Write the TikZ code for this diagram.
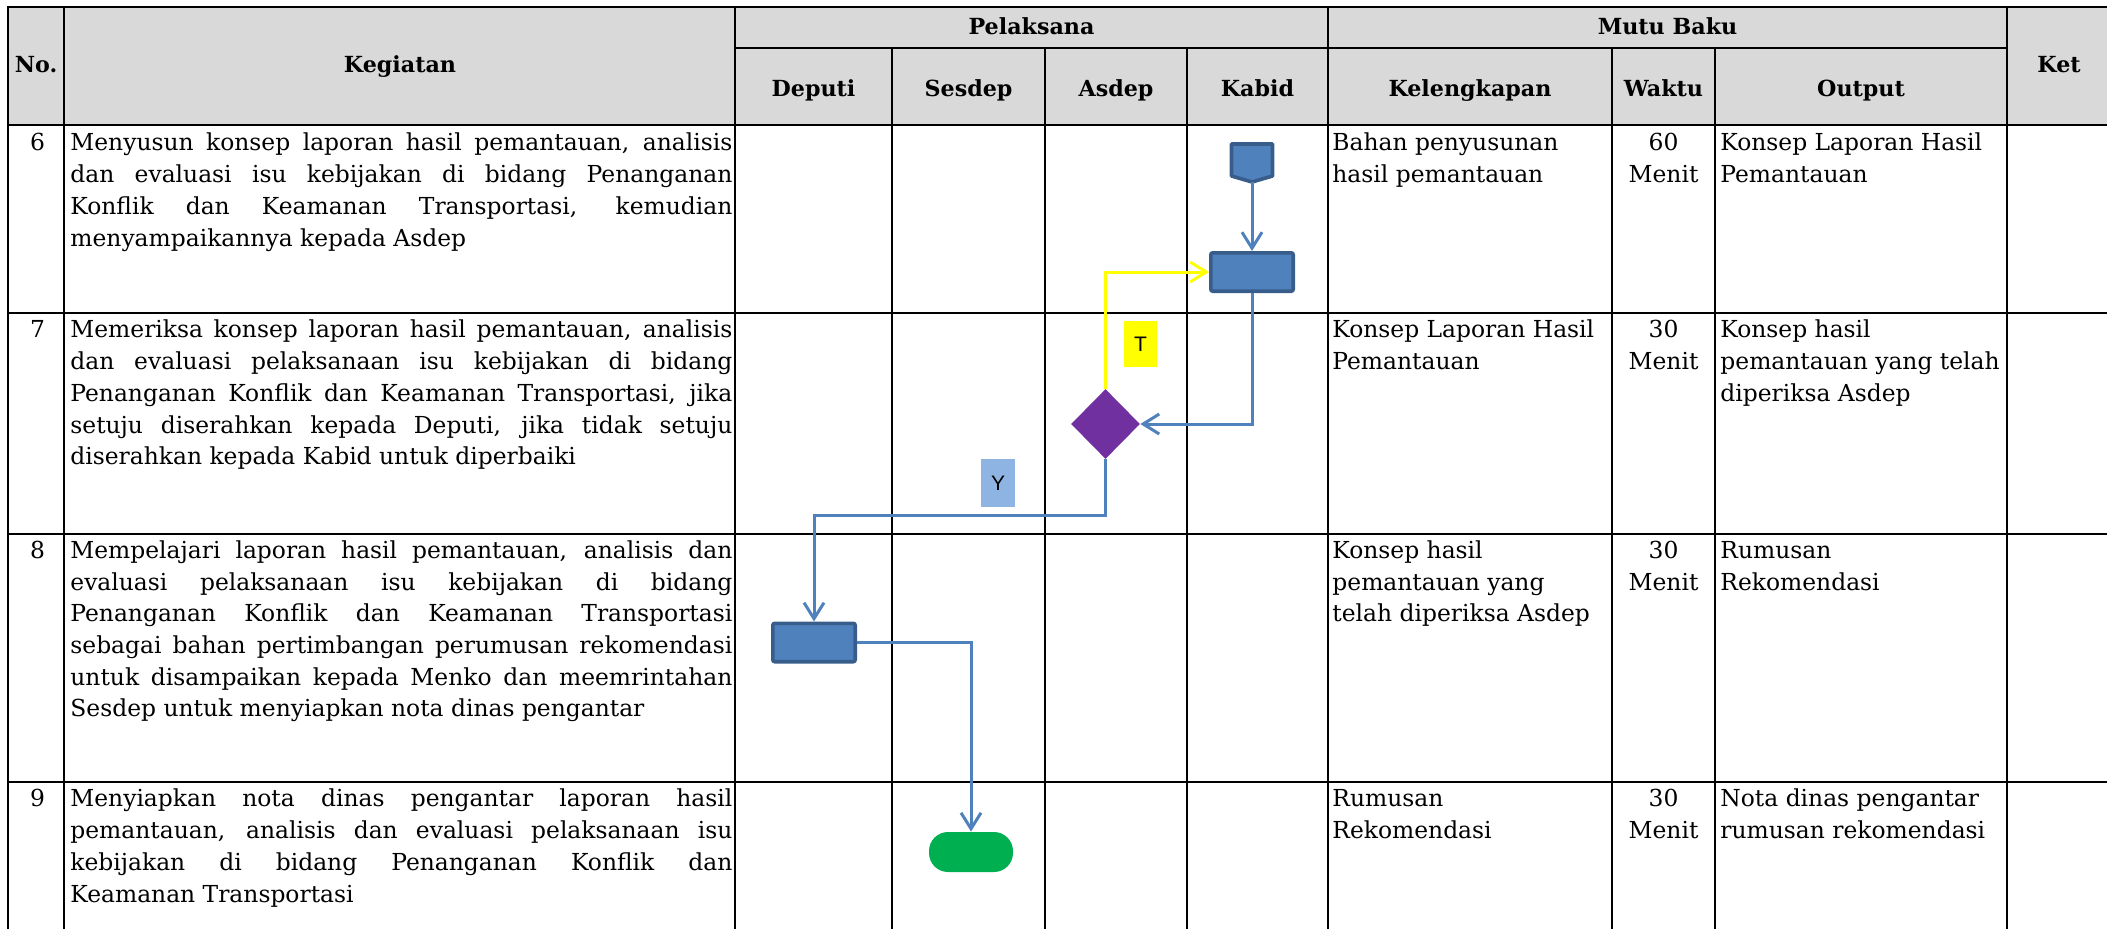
\documentclass[tikz,border=0pt]{standalone}
\usepackage{fontspec}
\setmainfont{DejaVu Serif}
\newfontfamily\lsans{Liberation Sans}
\usetikzlibrary{arrows.meta,shapes.geometric}
\definecolor{hdr}{HTML}{D9D9D9}
\definecolor{fblue}{HTML}{4F81BD}
\definecolor{dblue}{HTML}{385D8A}
\definecolor{lblue}{HTML}{8EB4E3}
\definecolor{purp}{HTML}{7030A0}
\definecolor{grn}{HTML}{00B050}
\definecolor{yel}{HTML}{FFFF00}
\newlength\kgw
\setlength\kgw{331pt}
\newcommand\jl[1]{\strut\makebox[\kgw][s]{#1}}
\newcommand\bodyfont{\fontsize{11.7}{15.85}\selectfont}
\begin{document}
\begin{tikzpicture}[x=0.5pt,y=-0.5pt,
  hline/.style={line width=1.2pt, line cap=rect},
  vline/.style={line width=1pt, line cap=rect},
  bodytxt/.style={inner sep=0pt, align=left, font=\bodyfont},
  hd/.style={inner sep=0pt, anchor=base, font=\bfseries\fontsize{11.1}{13}\selectfont},
  proc/.style={rectangle, draw=dblue, fill=fblue, line width=1.8pt, rounded corners=1pt, minimum width=41.2pt, minimum height=19.2pt, inner sep=0pt},
  offp/.style={draw=dblue, fill=fblue, line width=1.8pt, line join=round},
  flow/.style={draw=fblue, line width=1.5pt, -{Straight Barb[length=8pt,width=10pt]}},
  lbl/.style={inner sep=0pt, font=\lsans\fontsize{10.5}{12}\selectfont}
]
\useasboundingbox (0,0) rectangle (2107,928);
% header background
\fill[hdr] (8,7) rectangle (2112,125);
% grid
\foreach \xx in {8,64,735,1328,2007} \draw[vline] (\xx,7) -- (\xx,935);
\foreach \xx in {892,1045,1187,1612,1715} \draw[vline] (\xx,48) -- (\xx,935);
\foreach \yy in {7,125,313,534,782} \draw[hline] (8,\yy) -- (2112,\yy);
\draw[hline] (735,48) -- (2007,48);
% headers
\node[hd] (hno) at (36,72) {No.};
\node[hd] (hkg) at (400,72) {Kegiatan};
\node[hd] (hpl) at (1031.5,34) {Pelaksana};
\node[hd] (hmb) at (1667.5,34) {Mutu Baku};
\node[hd] (hket) at (2059,72) {Ket};
\node[hd] (hdep) at (813.5,96) {Deputi};
\node[hd] (hses) at (968.5,96) {Sesdep};
\node[hd] (hasd) at (1116,96) {Asdep};
\node[hd] (hkab) at (1257.5,96) {Kabid};
\node[hd] (hkel) at (1470,96) {Kelengkapan};
\node[hd] (hwak) at (1663.5,96) {Waktu};
\node[hd] (hout) at (1861,96) {Output};
% row 6
\node[bodytxt, anchor=north] (n6) at (37.5,128.3) {\strut 6};
\node[bodytxt, anchor=north west] (k6) at (70,128.3) {\jl{Menyusun konsep laporan hasil pemantauan, analisis}\\ \jl{dan evaluasi isu kebijakan di bidang Penanganan}\\ \jl{Konflik dan Keamanan Transportasi, kemudian}\\ \strut menyampaikannya kepada Asdep};
\node[bodytxt, anchor=north west] (l6) at (1332,128.3) {\strut Bahan penyusunan\\ \strut hasil pemantauan};
\node[bodytxt, align=center, anchor=north] (w6) at (1663.5,128.3) {\strut 60\\ \strut Menit};
\node[bodytxt, anchor=north west] (o6) at (1720,128.3) {\strut Konsep Laporan Hasil\\ \strut Pemantauan};
% row 7
\node[bodytxt, anchor=north] (n7) at (37.5,315.3) {\strut 7};
\node[bodytxt, anchor=north west] (k7) at (70,315.3) {\jl{Memeriksa konsep laporan hasil pemantauan, analisis}\\ \jl{dan evaluasi pelaksanaan isu kebijakan di bidang}\\ \jl{Penanganan Konflik dan Keamanan Transportasi, jika}\\ \jl{setuju diserahkan kepada Deputi, jika tidak setuju}\\ \strut diserahkan kepada Kabid untuk diperbaiki};
\node[bodytxt, anchor=north west] (l7) at (1332,315.3) {\strut Konsep Laporan Hasil\\ \strut Pemantauan};
\node[bodytxt, align=center, anchor=north] (w7) at (1663.5,315.3) {\strut 30\\ \strut Menit};
\node[bodytxt, anchor=north west] (o7) at (1720,315.3) {\strut Konsep hasil\\ \strut pemantauan yang telah\\ \strut diperiksa Asdep};
% row 8
\node[bodytxt, anchor=north] (n8) at (37.5,535.8) {\strut 8};
\node[bodytxt, anchor=north west] (k8) at (70,535.8) {\jl{Mempelajari laporan hasil pemantauan, analisis dan}\\ \jl{evaluasi pelaksanaan isu kebijakan di bidang}\\ \jl{Penanganan Konflik dan Keamanan Transportasi}\\ \jl{sebagai bahan pertimbangan perumusan rekomendasi}\\ \jl{untuk disampaikan kepada Menko dan meemrintahan}\\ \strut Sesdep untuk menyiapkan nota dinas pengantar};
\node[bodytxt, anchor=north west] (l8) at (1332,535.8) {\strut Konsep hasil\\ \strut pemantauan yang\\ \strut telah diperiksa Asdep};
\node[bodytxt, align=center, anchor=north] (w8) at (1663.5,535.8) {\strut 30\\ \strut Menit};
\node[bodytxt, anchor=north west] (o8) at (1720,535.8) {\strut Rumusan\\ \strut Rekomendasi};
% row 9
\node[bodytxt, anchor=north] (n9) at (37.5,784.3) {\strut 9};
\node[bodytxt, anchor=north west] (k9) at (70,784.3) {\jl{Menyiapkan nota dinas pengantar laporan hasil}\\ \jl{pemantauan, analisis dan evaluasi pelaksanaan isu}\\ \jl{kebijakan di bidang Penanganan Konflik dan}\\ \strut Keamanan Transportasi};
\node[bodytxt, anchor=north west] (l9) at (1332,784.3) {\strut Rumusan\\ \strut Rekomendasi};
\node[bodytxt, align=center, anchor=north] (w9) at (1663.5,784.3) {\strut 30\\ \strut Menit};
\node[bodytxt, anchor=north west] (o9) at (1720,784.3) {\strut Nota dinas pengantar\\ \strut rumusan rekomendasi};
% flowchart shapes
\draw[offp] (1231.5,144) -- (1272.5,144) -- (1272.5,176) -- (1252,182) -- (1231.5,176) -- cycle;
\node[inner sep=0pt, minimum width=20.5pt, minimum height=19pt] (conn) at (1252,163) {};
\node[proc] (rk) at (1252,272) {};
\node[diamond, fill=purp, inner sep=0pt, minimum width=34.5pt, minimum height=35pt] (dm) at (1105.5,424) {};
\node[proc] (rd) at (814,642.5) {};
\node[fill=grn, rounded corners=9.5pt, minimum width=42pt, minimum height=20pt, inner sep=0pt] (tg) at (971,852) {};
\node[lbl, fill=yel, minimum width=16.5pt, minimum height=23pt] (lt) at (1140.5,344) {T};
\node[lbl, fill=lblue, minimum width=17pt, minimum height=24pt] (ly) at (998,483) {Y};
% connectors
\draw[flow] (conn.south) -- (rk.north);
\draw[flow, draw=yel] (dm.north) |- (rk.west);
\draw[flow] (rk.south) |- (dm.east);
\coordinate (yb) at (1105.5,515);
\draw[flow] (dm.south) -- (yb) -| (rd.north);
\draw[flow] (rd.east) -| (tg.north);
\end{tikzpicture}
\end{document}
